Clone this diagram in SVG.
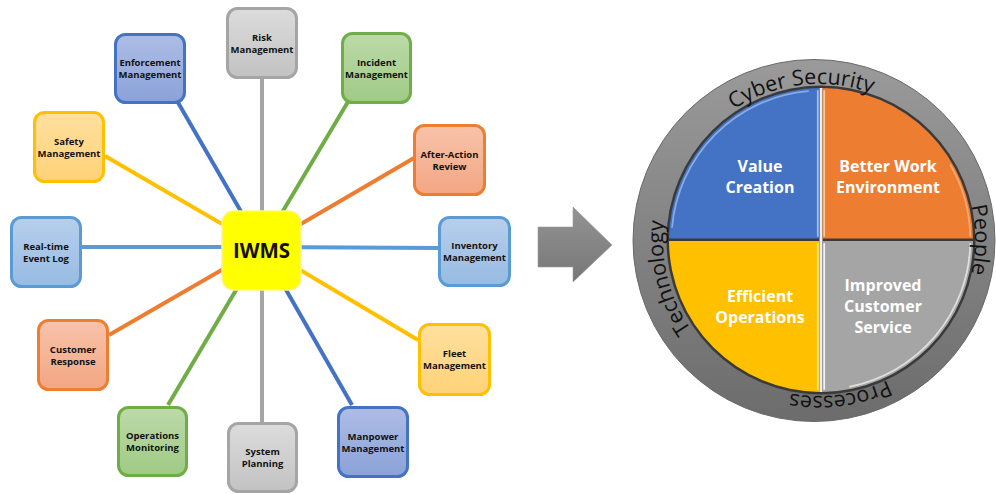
<svg xmlns="http://www.w3.org/2000/svg" width="996" height="494" viewBox="0 0 996 494">
  <defs>
    <linearGradient id="gBlue" x1="0" y1="0" x2="0" y2="1"><stop offset="0" stop-color="#AEBDE5"/><stop offset="1" stop-color="#8AA2D8"/></linearGradient>
    <linearGradient id="gGray" x1="0" y1="0" x2="0" y2="1"><stop offset="0" stop-color="#DCDCDC"/><stop offset="1" stop-color="#C2C2C2"/></linearGradient>
    <linearGradient id="gGreen" x1="0" y1="0" x2="0" y2="1"><stop offset="0" stop-color="#BCDAA9"/><stop offset="1" stop-color="#9FCA85"/></linearGradient>
    <linearGradient id="gOrange" x1="0" y1="0" x2="0" y2="1"><stop offset="0" stop-color="#F8C3AA"/><stop offset="1" stop-color="#F3A683"/></linearGradient>
    <linearGradient id="gLtBlue" x1="0" y1="0" x2="0" y2="1"><stop offset="0" stop-color="#B7CFEB"/><stop offset="1" stop-color="#97BBE3"/></linearGradient>
    <linearGradient id="gYellow" x1="0" y1="0" x2="0" y2="1"><stop offset="0" stop-color="#FFE09E"/><stop offset="1" stop-color="#FFD278"/></linearGradient>
    <linearGradient id="gRing" x1="0" y1="0" x2="0" y2="1"><stop offset="0" stop-color="#9A9A9A"/><stop offset="1" stop-color="#6C6C6C"/></linearGradient>
    <linearGradient id="gArrow" x1="0" y1="0" x2="0" y2="1"><stop offset="0" stop-color="#939393"/><stop offset="1" stop-color="#777777"/></linearGradient>
    <path id="ringPath" d="M741,375.1 A156,156 0 1,1 897,104.9 A156,156 0 1,1 741,375.1"/>
  </defs>
  <style>
    .box { stroke-width: 3; }
    .blue { fill: url(#gBlue); stroke: #4472C4; }
    .gray { fill: url(#gGray); stroke: #A5A5A5; }
    .green { fill: url(#gGreen); stroke: #70AD47; }
    .orange { fill: url(#gOrange); stroke: #ED7D31; }
    .ltblue { fill: url(#gLtBlue); stroke: #5B9BD5; }
    .yellow { fill: url(#gYellow); stroke: #FFC000; }
    .lbl { font-family: "Open Sans", "Liberation Sans", sans-serif; font-weight: bold; font-size: 9.5px; fill: #111; text-anchor: middle; }
    .link { stroke-width: 4; fill: none; }
    .quad { font-family: "Open Sans", "Liberation Sans", sans-serif; font-weight: bold; font-size: 16px; fill: #fff; text-anchor: middle; }
    .ring { font-family: "Open Sans", "Liberation Sans", sans-serif; font-size: 21.5px; fill: #111; text-anchor: middle; }
  </style>
  <rect width="996" height="494" fill="#fff"/>

  <!-- spokes from the hub to each module -->
  <g id="connectors">
    <line class="link" x1="165" y1="80" x2="261.5" y2="247" stroke="#4472C4"/>
    <line class="link" x1="262" y1="79" x2="262" y2="247" stroke="#A5A5A5"/>
    <line class="link" x1="355" y1="90" x2="261.5" y2="247" stroke="#70AD47"/>
    <line class="link" x1="105" y1="156" x2="261.5" y2="247" stroke="#FFC000"/>
    <line class="link" x1="414" y1="158" x2="261.5" y2="247" stroke="#ED7D31"/>
    <line class="link" x1="82" y1="247" x2="261.5" y2="247" stroke="#5B9BD5"/>
    <line class="link" x1="438" y1="248" x2="261.5" y2="247" stroke="#5B9BD5"/>
    <line class="link" x1="109" y1="335" x2="261.5" y2="247" stroke="#ED7D31"/>
    <line class="link" x1="418" y1="340" x2="261.5" y2="247" stroke="#FFC000"/>
    <line class="link" x1="168" y1="405" x2="261.5" y2="247" stroke="#70AD47"/>
    <line class="link" x1="352" y1="405" x2="261.5" y2="247" stroke="#4472C4"/>
    <line class="link" x1="262" y1="422" x2="262" y2="247" stroke="#A5A5A5"/>
  </g>

  <g id="risk"><rect class="box gray" x="227.5" y="8.5" width="69" height="69" rx="10"/><text class="lbl" x="262" y="40.5">Risk</text><text class="lbl" x="262" y="52.5">Management</text></g>
  <g id="enforcement"><rect class="box blue" x="115.5" y="34.5" width="69" height="68" rx="10"/><text class="lbl" x="150" y="66">Enforcement</text><text class="lbl" x="150" y="78">Management</text></g>
  <g id="incident"><rect class="box green" x="342.5" y="33.5" width="68" height="69" rx="10"/><text class="lbl" x="376.5" y="65.5">Incident</text><text class="lbl" x="376.5" y="77.5">Management</text></g>
  <g id="safety"><rect class="box yellow" x="34.5" y="112.5" width="69" height="69" rx="10"/><text class="lbl" x="69" y="144.5">Safety</text><text class="lbl" x="69" y="156.5">Management</text></g>
  <g id="after-action"><rect class="box orange" x="414.5" y="125.5" width="70" height="69" rx="10"/><text class="lbl" x="449.5" y="157.5">After-Action</text><text class="lbl" x="449.5" y="169.5">Review</text></g>
  <g id="realtime"><rect class="box ltblue" x="11.5" y="217.5" width="69" height="69" rx="10"/><text class="lbl" x="46" y="249.5">Real-time</text><text class="lbl" x="46" y="261.5">Event Log</text></g>
  <g id="inventory"><rect class="box ltblue" x="439.5" y="217.5" width="70" height="68" rx="10"/><text class="lbl" x="474.5" y="249">Inventory</text><text class="lbl" x="474.5" y="261">Management</text></g>
  <g id="customer-response"><rect class="box orange" x="38.5" y="320.5" width="69" height="69" rx="10"/><text class="lbl" x="73" y="352.5">Customer</text><text class="lbl" x="73" y="364.5">Response</text></g>
  <g id="fleet"><rect class="box yellow" x="419.5" y="324.5" width="70" height="70" rx="10"/><text class="lbl" x="454.5" y="357">Fleet</text><text class="lbl" x="454.5" y="369">Management</text></g>
  <g id="operations"><rect class="box green" x="118.5" y="407.5" width="68" height="68" rx="10"/><text class="lbl" x="152.5" y="439">Operations</text><text class="lbl" x="152.5" y="451">Monitoring</text></g>
  <g id="manpower"><rect class="box blue" x="338.5" y="407.5" width="69" height="69" rx="10"/><text class="lbl" x="373" y="439.5">Manpower</text><text class="lbl" x="373" y="451.5">Management</text></g>
  <g id="system-planning"><rect class="box gray" x="228.5" y="423.5" width="68" height="68" rx="10"/><text class="lbl" x="262.5" y="455">System</text><text class="lbl" x="262.5" y="467">Planning</text></g>

  <g id="iwms">
    <rect x="222" y="211" width="79" height="79" rx="12" fill="#FFFF00" stroke="#FFF38A" stroke-width="1.5"/>
    <text x="261.5" y="258" font-family="'Open Sans', 'Liberation Sans', sans-serif" font-weight="bold" font-size="20.5" fill="#111" text-anchor="middle">IWMS</text>
  </g>

  <!-- block arrow -->
  <g id="arrow">
    <polygon points="538,227 573,227 573,207 612,245 573,282 573,267 538,267" fill="url(#gArrow)" stroke="#9a9a9a" stroke-width="0.6"/>
  </g>

  <!-- outcomes wheel -->
  <g id="wheel">
    <circle cx="814" cy="240.5" r="181" fill="url(#gRing)" stroke="#6a6a6a" stroke-width="1"/>
    <circle cx="821" cy="240" r="154.5" fill="#3a3a3a"/>
    <rect x="819.5" y="88" width="3" height="304" fill="#eeeeee"/>
    <path d="M819.5,238.5 V88.01 A152,152 0 0,0 669.01,238.5 Z" fill="#4472C4"/>
    <path d="M822.5,238.5 V88.01 A152,152 0 0,1 972.99,238.5 Z" fill="#ED7D31"/>
    <path d="M819.5,241 V391.99 A152,152 0 0,1 669.01,241 Z" fill="#FFC000"/>
    <path d="M822.5,241 V391.99 A152,152 0 0,0 972.99,241 Z" fill="#A5A5A5"/>
    <!-- bevel highlights -->
    <g fill="none" stroke-width="1.8" stroke-linecap="round">
      <path d="M817.8,236 V91" stroke="#9FC0EE"/>
      <path d="M808,91.1 A149.5,149.5 0 0,0 672.1,227" stroke="#8FB2E8" opacity="0.9"/>
      <path d="M824.2,236 V91" stroke="#F8C7A2"/>
      <path d="M950.5,165 A149.5,149.5 0 0,1 970.3,236" stroke="#F6B383" opacity="0.8"/>
      <path d="M817.8,244 V389" stroke="#FFE88A"/>
      <path d="M824.2,244 V389" stroke="#F2F2F2"/>
      <path d="M970.3,244 A149.5,149.5 0 0,1 850,386.6" stroke="#E4E4E4" opacity="0.9"/>
    </g>
    <text class="quad" x="760" y="172">Value</text>
    <text class="quad" x="760" y="193">Creation</text>
    <text class="quad" x="888" y="172">Better Work</text>
    <text class="quad" x="888" y="193">Environment</text>
    <text class="quad" x="760" y="302">Efficient</text>
    <text class="quad" x="760" y="323">Operations</text>
    <text class="quad" x="883" y="291">Improved</text>
    <text class="quad" x="883" y="312">Customer</text>
    <text class="quad" x="883" y="333">Service</text>
    <text class="ring"><textPath href="#ringPath" startOffset="125">Technology</textPath></text>
    <text class="ring"><textPath href="#ringPath" startOffset="390">Cyber Security</textPath></text>
    <text class="ring"><textPath href="#ringPath" startOffset="653">People</textPath></text>
    <text class="ring"><textPath href="#ringPath" startOffset="877">Processes</textPath></text>
  </g>
</svg>
